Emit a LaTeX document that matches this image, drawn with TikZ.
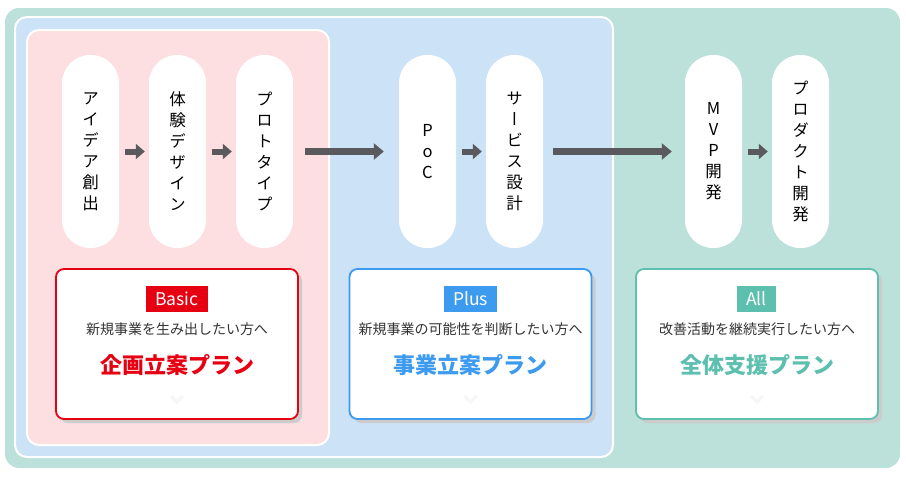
\documentclass[tikz,border=0pt]{standalone}
\usepackage{fontspec}
\setmainfont{Noto Sans CJK JP}
\newfontfamily\vjp[RawFeature=+vert]{Noto Sans CJK JP}
\usetikzlibrary{arrows.meta,shadows}
\definecolor{bggreen}{HTML}{BCE0DA}
\definecolor{bgblue}{HTML}{CCE2F6}
\definecolor{bgpink}{HTML}{FDDEE1}
\definecolor{cred}{HTML}{E60012}
\definecolor{cblue}{HTML}{3D9BEF}
\definecolor{cgreen}{HTML}{5DBFAD}
\definecolor{arrowgray}{HTML}{5A5A5E}
\definecolor{txtgray}{HTML}{333333}
\definecolor{chev}{HTML}{F6F6F6}
\begin{document}
\begin{tikzpicture}[x=1pt,y=-1pt,
  pill/.style={fill=white, rounded corners=28pt, minimum width=57pt, minimum height=193pt, inner sep=0pt, align=center, font=\vjp\fontsize{16.5}{21}\selectfont},
  card/.style={fill=white, draw=#1, line width=1.8pt, rounded corners=8pt, minimum width=242pt, minimum height=150pt, drop shadow={shadow xshift=4pt, shadow yshift=-4pt, fill=black!20, opacity=1}},
  tag/.style={fill=#1, text=white, minimum height=26pt, inner xsep=9pt, inner ysep=0pt, font=\fontsize{17.5}{20}\selectfont},
  sub/.style={text=txtgray, font=\fontsize{14}{16}\selectfont},
  plan/.style={text=#1, font=\bfseries\fontsize{22}{26}\selectfont},
  sarrow/.style={draw=arrowgray, line width=6pt, -{Triangle[length=9pt,width=15pt]}},
  larrow/.style={draw=arrowgray, line width=7pt, -{Triangle[length=10pt,width=16pt]}},
  chevron/.style={draw=chev, line width=3pt}
]
\useasboundingbox (0,0) rectangle (906,480);
% backgrounds
\fill[bggreen, rounded corners=14pt] (5,8) rectangle (900,468);
\filldraw[fill=bgblue, draw=white, line width=2pt, rounded corners=12pt] (15,17) rectangle (613,457);
\filldraw[fill=bgpink, draw=white, line width=2pt, rounded corners=12pt] (27,30) rectangle (329,445);
% pills
\node[pill] (p1) at (90.5,151.5) {ア\\イ\\デ\\ア\\創\\出};
\node[pill] (p2) at (177.5,151.5) {体\\験\\デ\\ザ\\イ\\ン};
\node[pill] (p3) at (264.5,151.5) {プ\\ロ\\ト\\タ\\イ\\プ};
\node[pill] (p4) at (427.5,151.5) {P\\o\\C};
\node[pill] (p5) at (514.5,151.5) {サ\\ー\\ビ\\ス\\設\\計};
\node[pill] (p6) at (713.5,151.5) {M\\V\\P\\開\\発};
\node[pill] (p7) at (800.5,151.5) {プ\\ロ\\ダ\\ク\\ト\\開\\発};
% arrows
\draw[sarrow] ([xshift=6pt]p1.east) -- ([xshift=-4pt]p2.west);
\draw[sarrow] ([xshift=6pt]p2.east) -- ([xshift=-4pt]p3.west);
\draw[larrow] ([xshift=12pt]p3.east) -- ([xshift=-15pt]p4.west);
\draw[sarrow] ([xshift=6pt]p4.east) -- ([xshift=-4pt]p5.west);
\draw[larrow] ([xshift=10pt]p5.east) -- ([xshift=-13pt]p6.west);
\draw[sarrow] ([xshift=6pt]p6.east) -- ([xshift=-4pt]p7.west);
% cards
\node[card=cred] (c1) at (177,344) {};
\node[card=cblue] (c2) at (470.5,344) {};
\node[card=cgreen] (c3) at (757,344) {};
\node[tag=cred] (t1) at (177,298.5) {Basic};
\node[tag=cblue] (t2) at (470.5,298.5) {Plus};
\node[tag=cgreen] (t3) at (756.5,298.5) {All};
\node[sub] (s1) at (177,329) {新規事業を生み出したい方へ};
\node[sub] (s2) at (470.5,329) {新規事業の可能性を判断したい方へ};
\node[sub] (s3) at (757,329) {改善活動を継続実行したい方へ};
\node[plan=cred] (n1) at (177,365) {企画立案プラン};
\node[plan=cblue] (n2) at (470.5,365) {事業立案プラン};
\node[plan=cgreen] (n3) at (757,365) {全体支援プラン};
% faint chevrons
\draw[chevron] (171,396) -- (177,402) -- (183,396);
\draw[chevron] (464.5,396) -- (470.5,402) -- (476.5,396);
\draw[chevron] (751,396) -- (757,402) -- (763,396);
\end{tikzpicture}
\end{document}
